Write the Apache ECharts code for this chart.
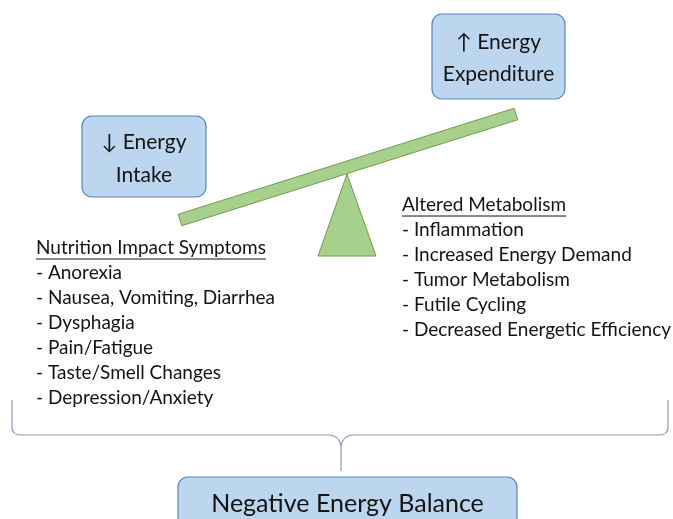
<!DOCTYPE html>
<html><head><meta charset="utf-8">
<script src="https://cdn.jsdelivr.net/npm/echarts@6/dist/echarts.min.js"></script>
<style>html,body{margin:0;padding:0;background:#fff}#c{width:673px;height:519px}</style>
</head><body><div id="c"></div>
<script>
const topBoxLines = ['\u2191 Energy', 'Expenditure'];
const leftBoxLines = ['\u2193 Energy', 'Intake'];
const bottomBoxText = 'Negative Energy Balance';
const leftHeading = 'Nutrition Impact Symptoms';
const leftItems = ['- Anorexia', '- Nausea, Vomiting, Diarrhea', '- Dysphagia', '- Pain/Fatigue', '- Taste/Smell Changes', '- Depression/Anxiety'];
const rightHeading = 'Altered Metabolism';
const rightItems = ['- Inflammation', '- Increased Energy Demand', '- Tumor Metabolism', '- Futile Cycling', '- Decreased Energetic Efficiency'];

const FONT = 'Lato';
const TXT = '#141414';
const BOX_FILL = '#bcd6ef';
const BOX_STROKE = '#5585c0';
const GREEN_FILL = '#a8d08d';
const GREEN_STROKE = '#6f9e50';
const BRACE = '#8c9cb4';

const measure = (() => { const c = document.createElement('canvas').getContext('2d'); return (t, size) => { c.font = size + 'px ' + FONT; return c.measureText(t).width; }; })();

const g = [];
function box(x, y, w, h, lines, size, lh, dy) {
  g.push({ type: 'rect', shape: { x, y, width: w, height: h, r: 10 }, style: { fill: BOX_FILL, stroke: BOX_STROKE, lineWidth: 1.2 } });
  const cy = y + h / 2 + dy;
  lines.forEach((t, i) => {
    g.push({ type: 'text', x: x + w / 2, y: cy + (i - (lines.length - 1) / 2) * lh, style: { text: t, fill: TXT, font: size + 'px ' + FONT, align: 'center', verticalAlign: 'middle' } });
  });
}
box(432, 14, 133, 85, topBoxLines, 21, 32, 2);
box(82, 116, 124, 81, leftBoxLines, 21, 33, 2);
box(178, 477, 339, 60, [bottomBoxText], 25, 30, -3);

// beam
(function () {
  const x1 = 180, y1 = 220, x2 = 516, y2 = 114, th = 12;
  const dx = x2 - x1, dy = y2 - y1, L = Math.hypot(dx, dy);
  const nx = -dy / L * th / 2, ny = dx / L * th / 2;
  g.push({ type: 'polygon', shape: { points: [[x1 + nx, y1 + ny], [x2 + nx, y2 + ny], [x2 - nx, y2 - ny], [x1 - nx, y1 - ny]] }, style: { fill: GREEN_FILL, stroke: GREEN_STROKE, lineWidth: 1 } });
})();
// fulcrum
g.push({ type: 'polygon', shape: { points: [[347, 174], [376, 256], [318, 256]] }, style: { fill: GREEN_FILL, stroke: GREEN_STROKE, lineWidth: 1 } });

function list(x, y, heading, items, size, lh) {
  g.push({ type: 'text', x, y, style: { text: heading, fill: TXT, font: size + 'px ' + FONT, verticalAlign: 'middle' } });
  const w = measure(heading, size);
  g.push({ type: 'line', shape: { x1: x, y1: y + size * 0.58, x2: x + w, y2: y + size * 0.58 }, style: { stroke: TXT, lineWidth: 1 } });
  items.forEach((t, i) => {
    g.push({ type: 'text', x, y: y + (i + 1) * lh, style: { text: t, fill: TXT, font: size + 'px ' + FONT, verticalAlign: 'middle' } });
  });
}
list(36, 248, leftHeading, leftItems, 19, 25);
list(402, 205, rightHeading, rightItems, 19, 25);

// brace
const bs = { stroke: BRACE, lineWidth: 1.2, fill: null };
g.push({ type: 'polyline', shape: { points: [[12, 400], [12, 427]] }, style: bs });
g.push({ type: 'bezierCurve', shape: { x1: 12, y1: 427, cpx1: 12, cpy1: 435, x2: 21, y2: 435 }, style: bs });
g.push({ type: 'polyline', shape: { points: [[21, 435], [329, 435]] }, style: bs });
g.push({ type: 'bezierCurve', shape: { x1: 329, y1: 435, cpx1: 339, cpy1: 435, x2: 341, y2: 446 }, style: bs });
g.push({ type: 'bezierCurve', shape: { x1: 341, y1: 446, cpx1: 343, cpy1: 435, x2: 353, y2: 435 }, style: bs });
g.push({ type: 'polyline', shape: { points: [[353, 435], [659, 435]] }, style: bs });
g.push({ type: 'bezierCurve', shape: { x1: 659, y1: 435, cpx1: 668, cpy1: 435, x2: 668, y2: 427 }, style: bs });
g.push({ type: 'polyline', shape: { points: [[668, 427], [668, 400]] }, style: bs });
g.push({ type: 'polyline', shape: { points: [[341, 446], [341, 471]] }, style: bs });

const chart = echarts.init(document.getElementById('c'));
chart.setOption({ backgroundColor: '#fff', graphic: { elements: g } });
</script></body></html>
